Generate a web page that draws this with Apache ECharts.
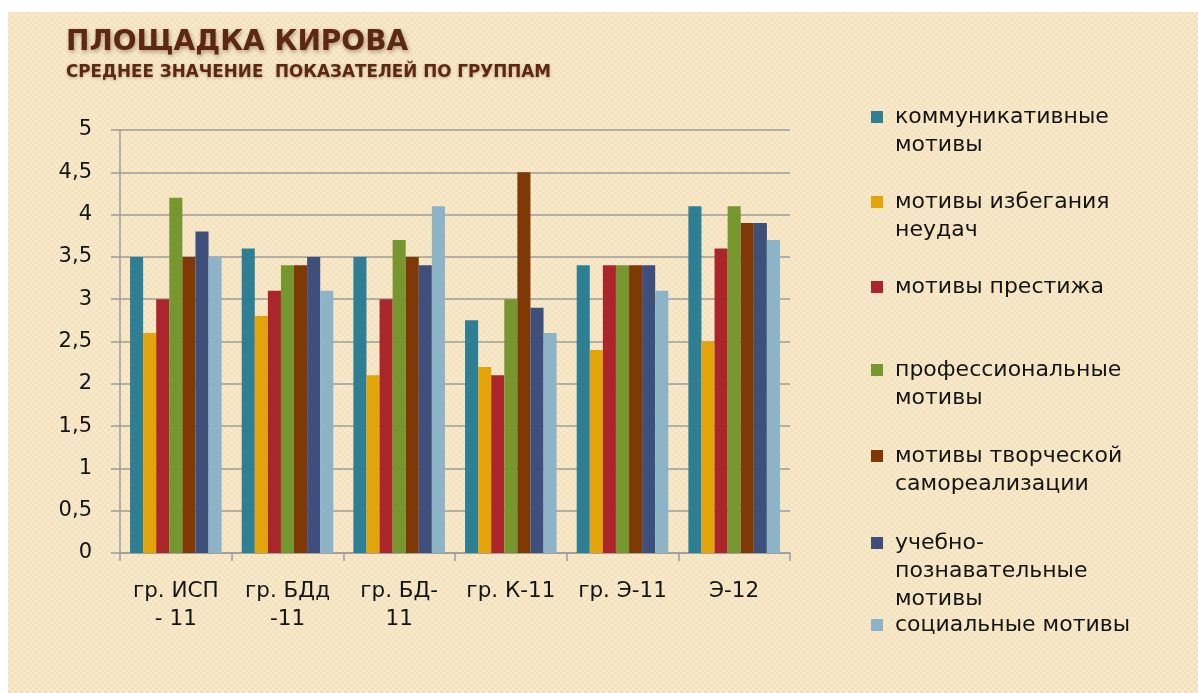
<!DOCTYPE html>
<html>
<head>
<meta charset="utf-8">
<script src="https://cdn.jsdelivr.net/npm/echarts@6/dist/echarts.min.js"></script>
<style>
  html, body { margin: 0; padding: 0; background: #fff; }
  #wrap {
    position: absolute; left: 8px; top: 12px; right: 0; bottom: 0;
    background-color: #f3e2bd;
    background-image:
      linear-gradient(45deg, rgba(255,248,225,0.35) 25%, transparent 25%, transparent 75%, rgba(255,248,225,0.35) 75%),
      linear-gradient(45deg, rgba(255,248,225,0.35) 25%, transparent 25%, transparent 75%, rgba(255,248,225,0.35) 75%);
    background-size: 6px 6px;
    background-position: 0 0, 3px 3px;
  }
  #chart { position: absolute; left: 0; top: 0; width: 1198px; height: 693px; }
</style>
</head>
<body>
<div id="wrap"></div>
<div id="chart"></div>
<script>
// группы (подписи оси X, переносы как на слайде)
const categories = ['гр. ИСП\n- 11', 'гр. БДд\n-11', 'гр. БД-\n11', 'гр. К-11', 'гр. Э-11', 'Э-12']

const seriesNames = [
  'коммуникативные мотивы',
  'мотивы избегания неудач',
  'мотивы престижа',
  'профессиональные мотивы',
  'мотивы творческой самореализации',
  'учебно-познавательные мотивы',
  'социальные мотивы',
]

// как подписи легенды разбиты на строки
const legendLabels = [
  'коммуникативные\nмотивы',
  'мотивы избегания\nнеудач',
  'мотивы престижа',
  'профессиональные\nмотивы',
  'мотивы творческой\nсамореализации',
  'учебно-\nпознавательные\nмотивы',
  'социальные мотивы',
]

const communicative = [3.5, 3.6, 3.5, 2.75, 3.4, 4.1]
const avoidance = [2.6, 2.8, 2.1, 2.2, 2.4, 2.5]
const prestige = [3.0, 3.1, 3.0, 2.1, 3.4, 3.6]
const professional = [4.2, 3.4, 3.7, 3.0, 3.4, 4.1]
const creative = [3.5, 3.4, 3.5, 4.5, 3.4, 3.9]
const learning = [3.8, 3.5, 3.4, 2.9, 3.4, 3.9]
const social = [3.5, 3.1, 4.1, 2.6, 3.1, 3.7]

const yTicks = [0, 0.5, 1, 1.5, 2, 2.5, 3, 3.5, 4, 4.5, 5]

const allValues = [communicative, avoidance, prestige, professional, creative, learning, social]
const colors = ['#2e7e94', '#e2a408', '#ab262b', '#76962f', '#7e3907', '#3e4f7c', '#8db3c6']

const font = 'DejaVu Sans'
const gridColor = '#9c9c9c'

// центры первой строки каждого пункта легенды
const legendY = [117, 202, 287, 370, 456, 543, 625]
const lh = 28

// текст легенды центрируется по значку, поэтому сверху добавляем пустые строки,
// чтобы значок стоял напротив первой строки
const legends = seriesNames.map((name, i) => {
  const lines = legendLabels[i].split('\n').length
  return {
    orient: 'vertical',
    left: 871,
    top: legendY[i] - lh / 2 - (lines - 1) * lh,
    padding: 0,
    itemWidth: 12,
    itemHeight: 12,
    selectedMode: false,
    icon: 'rect',
    data: [name],
    formatter: () => ' \n'.repeat(lines - 1) + legendLabels[i],
    textStyle: {
      fontFamily: font,
      fontSize: 22,
      lineHeight: lh,
      color: '#141414',
      padding: [0, 0, 0, 7],
    },
  }
})

const chart = echarts.init(document.getElementById('chart'))

chart.setOption({
  backgroundColor: 'transparent',
  animation: false,
  title: {
    text: 'ПЛОЩАДКА КИРОВА',
    subtext: 'СРЕДНЕЕ ЗНАЧЕНИЕ  ПОКАЗАТЕЛЕЙ ПО ГРУППАМ',
    left: 66,
    top: 29,
    padding: 0,
    itemGap: 7,
    textStyle: {
      fontFamily: font,
      fontSize: 28,
      fontWeight: 'bold',
      color: '#5c2813',
      textShadowColor: 'rgba(90,50,20,0.45)',
      textShadowBlur: 4,
      textShadowOffsetX: 1,
      textShadowOffsetY: 2,
    },
    subtextStyle: {
      fontFamily: font,
      fontSize: 16.8,
      fontWeight: 'bold',
      color: '#5c2813',
      textShadowColor: 'rgba(90,50,20,0.35)',
      textShadowBlur: 3,
      textShadowOffsetY: 1,
    },
  },
  legend: legends,
  grid: {
    left: 120,
    right: 408,
    top: 130,
    bottom: 140,
  },
  xAxis: {
    type: 'category',
    data: categories,
    axisLine: { lineStyle: { color: gridColor, width: 1.5 } },
    axisTick: { show: true, length: 8, lineStyle: { color: gridColor, width: 1.5 } },
    axisLabel: {
      interval: 0,
      margin: 24,
      fontFamily: font,
      fontSize: 21.5,
      lineHeight: 28,
      color: '#141414',
    },
  },
  yAxis: {
    type: 'value',
    min: yTicks[0],
    max: yTicks[yTicks.length - 1],
    interval: 0.5,
    axisLine: { show: true, lineStyle: { color: gridColor, width: 1.5 } },
    axisTick: { show: true, length: 9, lineStyle: { color: gridColor, width: 1.5 } },
    splitLine: { lineStyle: { color: gridColor, width: 1.5 } },
    axisLabel: {
      margin: 28,
      fontFamily: font,
      fontSize: 21,
      color: '#141414',
      formatter: (v) => String(v).replace('.', ','),
    },
  },
  series: seriesNames.map((name, i) => ({
    name,
    type: 'bar',
    data: allValues[i],
    barGap: '0%',
    barCategoryGap: '18%',
    itemStyle: { color: colors[i] },
  })),
})
</script>
</body>
</html>
